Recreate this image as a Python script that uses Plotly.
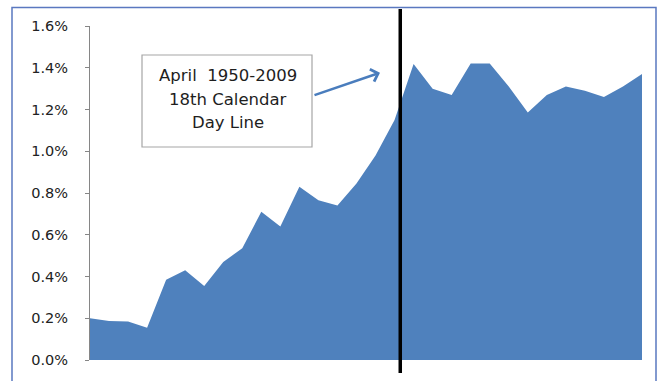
import plotly.graph_objects as go

# ---- data ----
day_index = list(range(30))
avg_return = [0.200, 0.187, 0.184, 0.155, 0.385, 0.430, 0.355, 0.470, 0.535, 0.710,
              0.640, 0.830, 0.765, 0.740, 0.845, 0.980, 1.150, 1.418, 1.300, 1.270,
              1.420, 1.420, 1.310, 1.186, 1.270, 1.310, 1.290, 1.260, 1.310, 1.370]
y_tick_vals = [0.0, 0.2, 0.4, 0.6, 0.8, 1.0, 1.2, 1.4, 1.6]
y_tick_text = ["0.0%", "0.2%", "0.4%", "0.6%", "0.8%", "1.0%", "1.2%", "1.4%", "1.6%"]
day_line_x = 16.3
label_lines = ["April  1950-2009", "18th Calendar", "Day Line"]

W, H = 664, 381
L, R, T, B = 90, 22, 26, 21
PW, PH = W - L - R, H - T - B


def px(xp):
    return (xp - L) / PW


def py(yp):
    return (H - B - yp) / PH


fig = go.Figure()
fig.add_trace(go.Scatter(
    x=day_index, y=avg_return, mode="lines", fill="tozeroy",
    line=dict(width=0, color="#4f81bd"), fillcolor="#4f81bd",
    hoverinfo="skip", showlegend=False,
))

annotations = []
for line_text, ypos in zip(label_lines, [76, 99.5, 122.5]):
    annotations.append(dict(
        xref="paper", yref="paper", x=px(228), y=py(ypos),
        text=line_text, showarrow=False, xanchor="center", yanchor="middle",
        font=dict(family="DejaVu Sans", size=16.5, color="#1e1e1e")))
annotations.append(dict(
    xref="paper", yref="paper", x=px(380), y=py(72.7),
    ax=-67, ay=23, text="", showarrow=True,
    arrowhead=4, arrowsize=1, arrowwidth=2.5, arrowcolor="#4a7dbd"))

fig.update_layout(
    width=W, height=H,
    margin=dict(l=L, r=R, t=T, b=B, pad=0),
    paper_bgcolor="white", plot_bgcolor="white",
    showlegend=False,
    xaxis=dict(range=[0, 29], showgrid=False, zeroline=False, showline=False,
               showticklabels=False, ticks=""),
    yaxis=dict(range=[0, 1.6], tickvals=y_tick_vals, ticktext=y_tick_text,
               showgrid=False, zeroline=False, showline=True,
               linecolor="#868686", linewidth=1, ticks="outside", ticklen=4,
               tickcolor="#868686", ticklabelstandoff=14,
               tickfont=dict(family="DejaVu Sans", size=14.5, color="#222222")),
    shapes=[
        dict(type="rect", xref="paper", yref="paper",
             x0=px(12), x1=px(656), y0=py(400), y1=py(7.5),
             line=dict(color="#5a78c0", width=1.5), fillcolor="rgba(0,0,0,0)",
             layer="above"),
        dict(type="rect", xref="paper", yref="paper",
             x0=px(142), x1=px(312), y0=py(147), y1=py(55),
             line=dict(color="#a6a6a6", width=1.2), fillcolor="white",
             layer="above"),
        dict(type="line", xref="x", yref="paper",
             x0=day_line_x, x1=day_line_x, y0=py(373), y1=py(9),
             line=dict(color="black", width=3.5), layer="above"),
    ],
    annotations=annotations,
)

fig.write_html("out.html")
